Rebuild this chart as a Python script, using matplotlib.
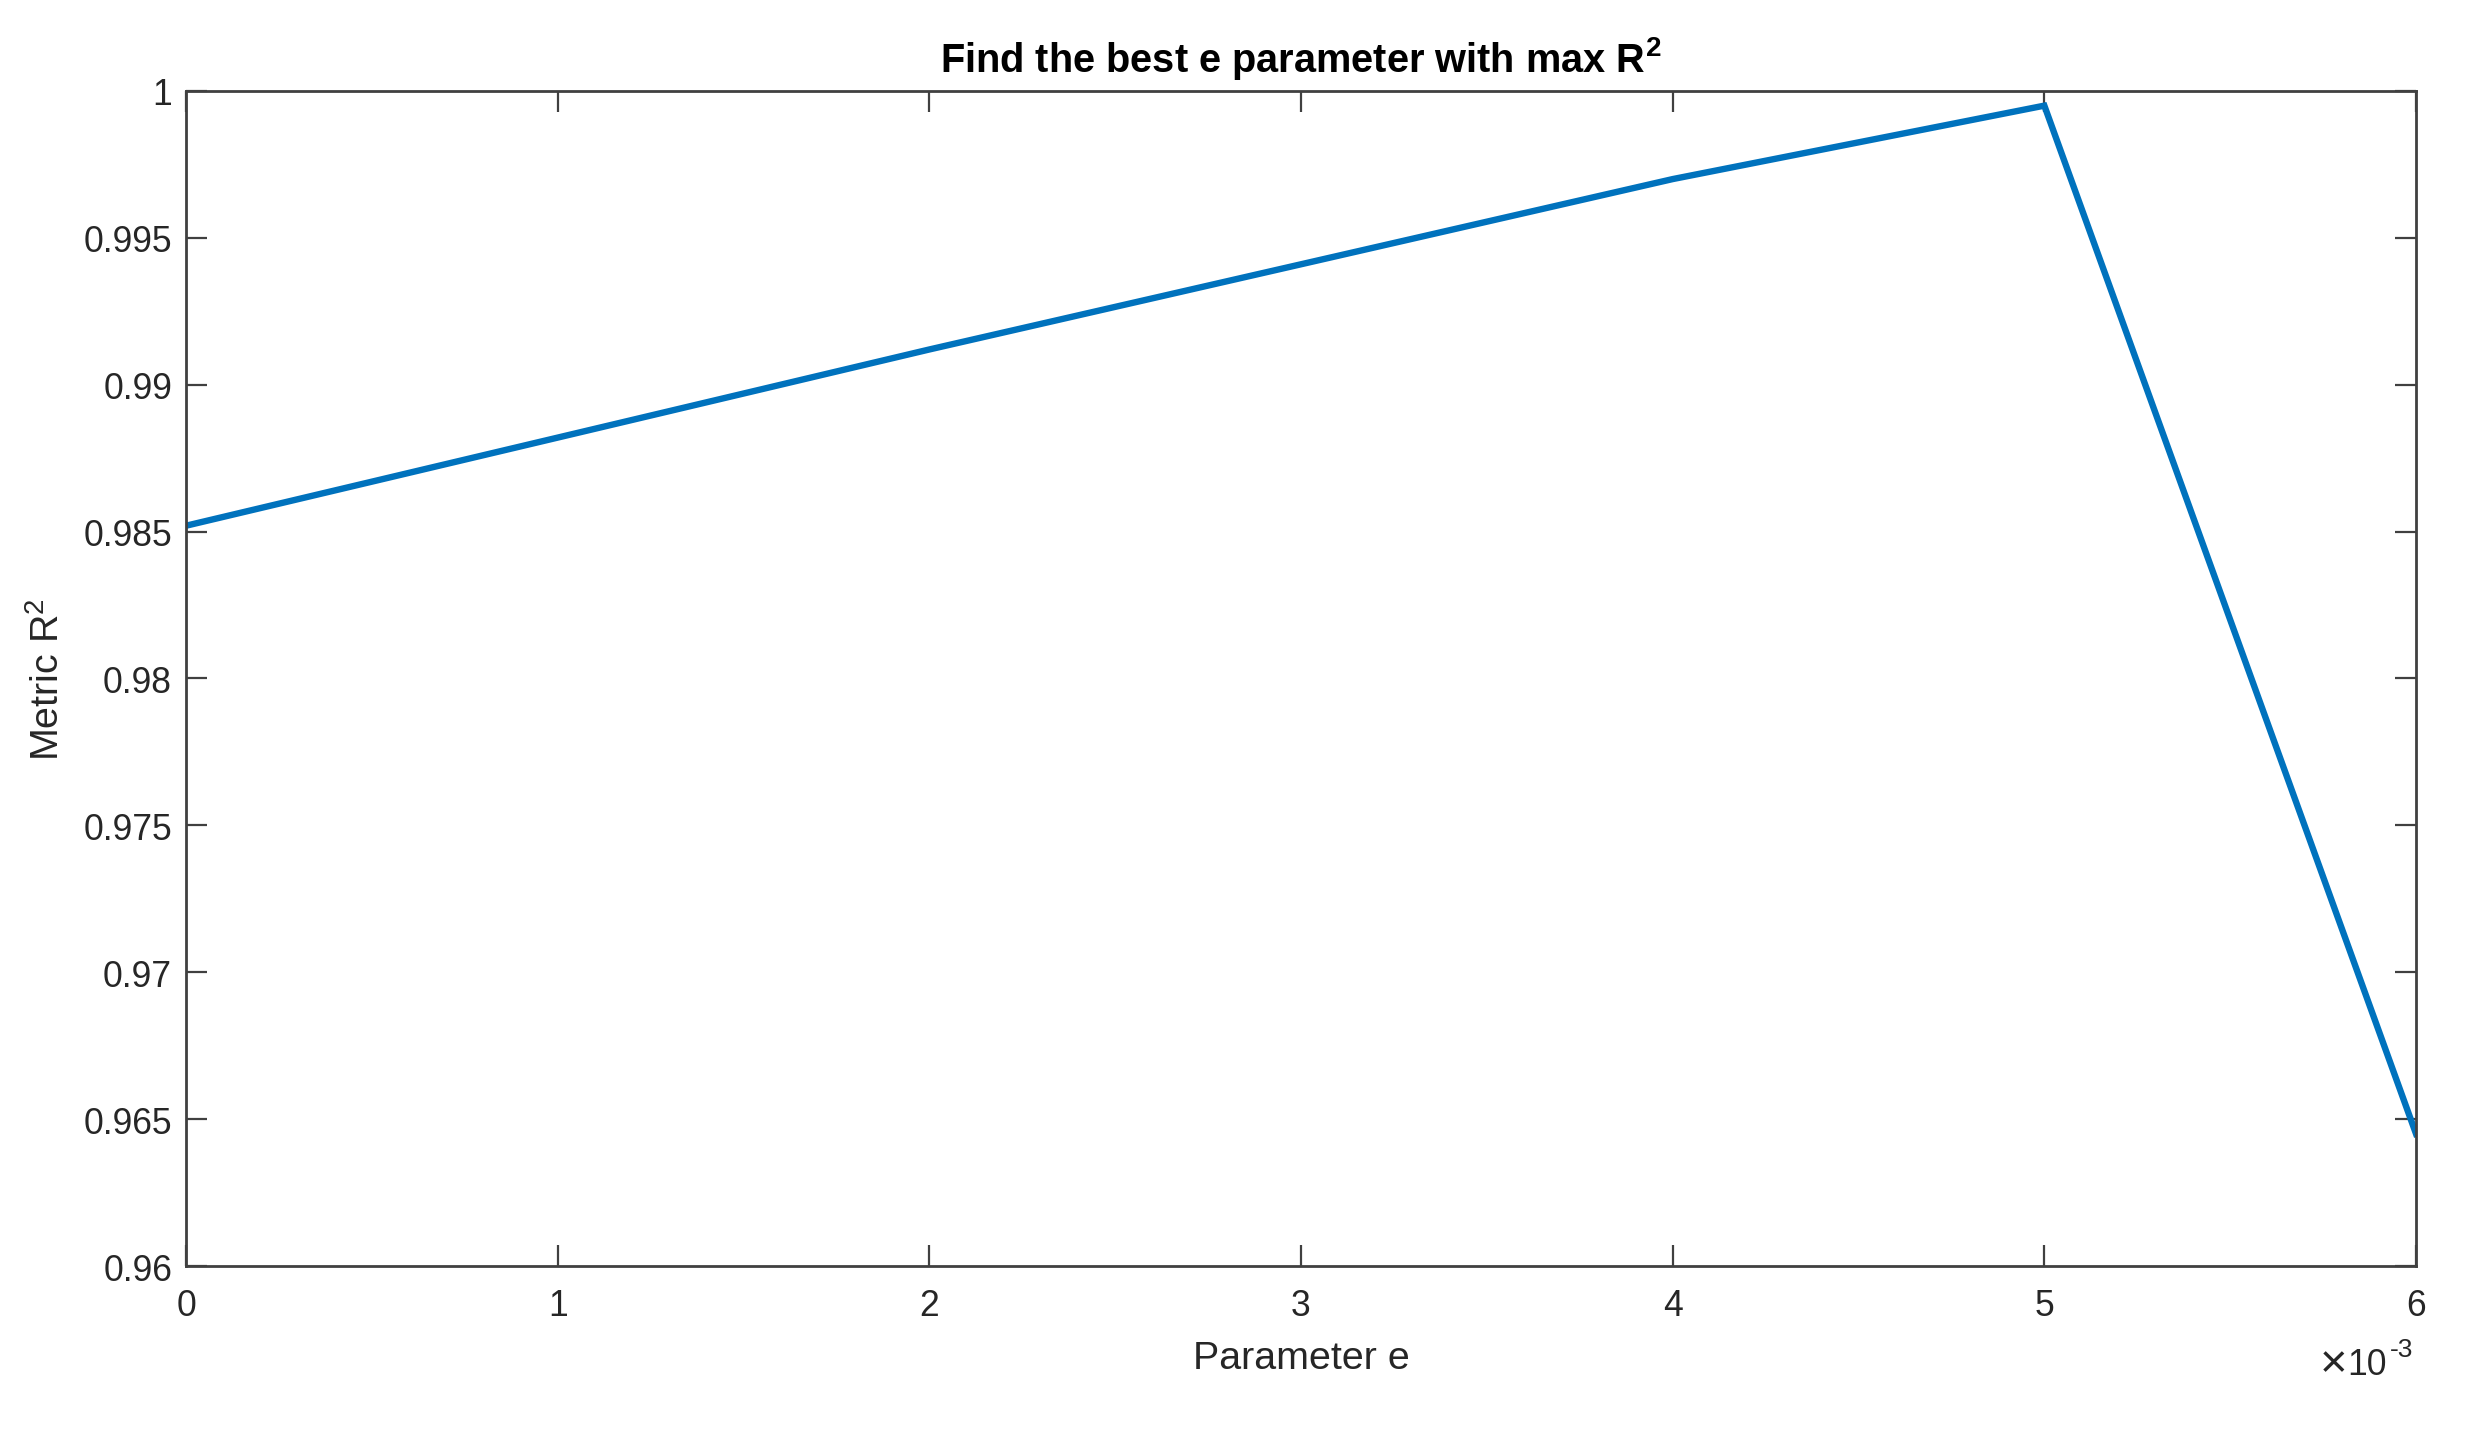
import matplotlib
matplotlib.use("Agg")
import matplotlib.pyplot as plt
from matplotlib.ticker import FuncFormatter, MultipleLocator

# Data
param_e = [0.000, 0.001, 0.002, 0.003, 0.004, 0.005, 0.006]
r2_values = [0.9852, 0.9882, 0.9912, 0.9941, 0.9970, 0.9995, 0.9645]
title_text = r"Find the best e parameter with max R$^{\mathbf{2}}$"
xlabel_text = "Parameter e"
ylabel_text = r"Metric R$^{2}$"

plt.rcParams['font.family'] = ['Liberation Sans', 'DejaVu Sans']
plt.rcParams['mathtext.fontset'] = 'custom'
plt.rcParams['mathtext.rm'] = 'Liberation Sans'
plt.rcParams['mathtext.it'] = 'Liberation Sans:italic'
plt.rcParams['mathtext.bf'] = 'Liberation Sans:bold'

axcol = '#404040'
txtcol = '#262626'
fig = plt.figure(figsize=(12.4, 7.1599), dpi=200)
ax = fig.add_axes([0.075, 0.1152, 0.8992, 0.8206])

ax.plot(param_e, r2_values, color='#0072BD', linewidth=2.3, solid_joinstyle='miter')

ax.set_xlim(0, 0.006)
ax.set_ylim(0.96, 1.0)
ax.xaxis.set_major_locator(MultipleLocator(0.001))
ax.yaxis.set_major_locator(MultipleLocator(0.005))
ax.xaxis.set_major_formatter(FuncFormatter(lambda v, p: '%g' % round(v * 1e3, 6)))
ax.yaxis.set_major_formatter(FuncFormatter(lambda v, p: '%g' % round(v, 6)))

for s in ax.spines.values():
    s.set_color(axcol)
    s.set_linewidth(1.0)
ax.tick_params(axis='both', direction='in', length=7.5, width=0.8, colors=axcol,
               labelsize=12.8, top=True, right=True, labelcolor=txtcol)
ax.tick_params(axis='y', pad=5)
ax.tick_params(axis='x', pad=8)

ax.set_title(title_text, fontsize=14.3, fontweight='bold', pad=7, color='black')
ax.set_xlabel(xlabel_text, fontsize=14.2, color=txtcol, labelpad=6)
ax.set_ylabel(ylabel_text, fontsize=14.2, color=txtcol, labelpad=6)

# exponent note under the x axis (MATLAB style)
ax.annotate("\u00d7", xy=(1.0, 0.0), xycoords='axes fraction',
            xytext=(-24.8, -39.5), textcoords='offset points',
            ha='right', va='baseline', fontsize=17, color=txtcol)
ax.annotate("10", xy=(1.0, 0.0), xycoords='axes fraction',
            xytext=(-10.4, -38.9), textcoords='offset points',
            ha='right', va='baseline', fontsize=12.8, color=txtcol)
ax.annotate("-3", xy=(1.0, 0.0), xycoords='axes fraction',
            xytext=(-1.0, -32.5), textcoords='offset points',
            ha='right', va='baseline', fontsize=9.5, color=txtcol)

fig.savefig('out.png', dpi=200, facecolor='white')
